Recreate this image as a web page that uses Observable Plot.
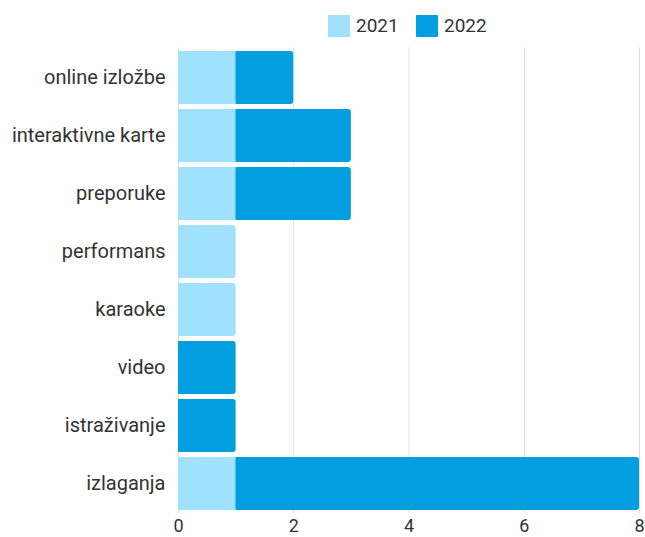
<!DOCTYPE html>
<html>
<head>
<meta charset="utf-8">
<script src="https://cdn.jsdelivr.net/npm/d3@7"></script>
<script src="https://cdn.jsdelivr.net/npm/@observablehq/plot@0.6"></script>
<style>
  html, body { margin: 0; padding: 0; background: #fff; }
  body { width: 645px; height: 537px; overflow: hidden; font-family: Roboto, sans-serif; color: #333; }
  #legend { position: relative; height: 46px; }
  .item { position: absolute; top: 15px; display: flex; align-items: center; font-size: 19px; line-height: 22px; }
  .sw { width: 22px; height: 22px; margin-right: 6px; border-radius: 1px; }
</style>
</head>
<body>
<div id="legend"></div>
<div id="chart"></div>
<script>
const categories = ["online izložbe", "interaktivne karte", "preporuke", "performans", "karaoke", "video", "istraživanje", "izlaganja"];
const series = ["2021", "2022"];
const values2021 = [1, 1, 1, 1, 1, 0, 0, 1];
const values2022 = [1, 2, 2, 0, 0, 1, 1, 7];
const colors = ["#9fe1ff", "#019fe0"];
const xTicks = [0, 2, 4, 6, 8];

// stacked segments (2021 first, then 2022); mark the outermost segment per row
const segs = [];
categories.forEach((c, i) => {
  const vals = [values2021[i], values2022[i]];
  let x = 0;
  const row = [];
  vals.forEach((v, j) => {
    if (v > 0) { row.push({category: c, year: series[j], x1: x, x2: x + v, last: false}); x += v; }
  });
  if (row.length) row[row.length - 1].last = true;
  segs.push(...row);
});
const lastSegs = segs.filter(d => d.last);

const legend = document.getElementById("legend");
const legendX = [328, 416];
series.forEach((s, i) => {
  const it = document.createElement("div");
  it.className = "item";
  it.style.left = legendX[i] + "px";
  it.innerHTML = `<span class="sw" style="background:${colors[i]}"></span><span>${s}</span>`;
  legend.appendChild(it);
});

const chart = Plot.plot({
  width: 645,
  height: 491,
  marginTop: 1.5,
  marginBottom: 24,
  marginLeft: 178,
  marginRight: 6,
  style: {fontFamily: "Roboto, sans-serif", fontSize: "19px", color: "#333", background: "#fff", overflow: "visible"},
  x: {domain: [0, 8], ticks: xTicks, label: null},
  y: {domain: categories, label: null, paddingInner: 0.09, paddingOuter: 0.045},
  color: {domain: series, range: colors},
  marks: [
    Plot.ruleX(xTicks, {stroke: "#dddddd", strokeWidth: 1}),
    Plot.barX(segs.filter(d => !d.last), {x1: "x1", x2: "x2", y: "category", fill: "year"}),
    Plot.barX(lastSegs, {x1: "x1", x2: "x2", y: "category", fill: "year", rx: 3}),
    Plot.barX(lastSegs, {x1: "x1", x2: d => (d.x1 + d.x2) / 2, y: "category", fill: "year"}),
    Plot.axisX({ticks: xTicks, tickSize: 0, tickPadding: 6, fontSize: 18, label: null}),
    Plot.axisY({tickSize: 0, tickPadding: 13, fontSize: 20, label: null})
  ]
});
document.getElementById("chart").appendChild(chart);
</script>
</body>
</html>
